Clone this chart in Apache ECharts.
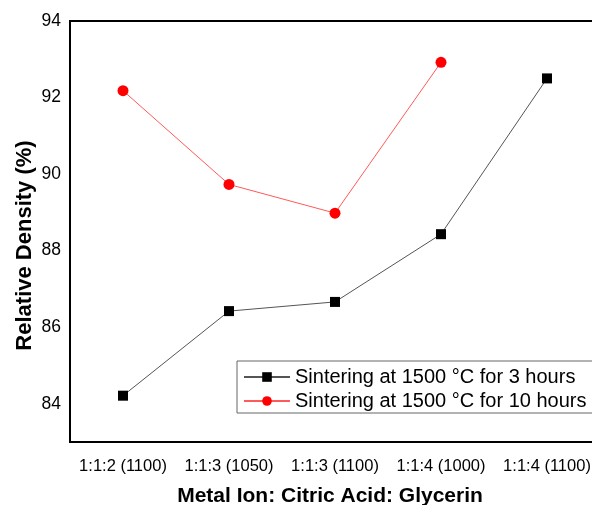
<!DOCTYPE html>
<html>
<head>
<meta charset="utf-8">
<script src="https://cdn.jsdelivr.net/npm/echarts@6/dist/echarts.min.js"></script>
<style>
  html, body { margin: 0; padding: 0; background: #fff; }
  #chart { width: 592px; height: 505px; }
</style>
</head>
<body>
<div id="chart"></div>
<script>
// ratios (sintering temperature)
var categories = ['1:1:2 (1100)', '1:1:3 (1050)', '1:1:3 (1100)', '1:1:4 (1000)', '1:1:4 (1100)'];
var hours3 = [84.21, 86.42, 86.66, 88.43, 92.50];
var hours10 = [92.18, 89.73, 88.98, 92.92, null];
var seriesNames = ['Sintering at 1500 \u00B0C for 3 hours', 'Sintering at 1500 \u00B0C for 10 hours'];

var chart = echarts.init(document.getElementById('chart'));
var font = 'Liberation Sans';

chart.setOption({
  backgroundColor: '#fff',
  animation: false,
  grid: {
    left: 70, top: 21, right: -8, bottom: 63,
    outerBoundsMode: 'none',
    containLabel: false,
    show: true, borderColor: '#000', borderWidth: 2
  },
  legend: {
    orient: 'vertical',
    left: 237, top: 361,
    padding: [6, 10, 2, 6],
    itemGap: 4,
    itemWidth: 46, itemHeight: 12,
    borderColor: '#666', borderWidth: 1,
    backgroundColor: '#fff',
    textStyle: { fontFamily: font, fontSize: 20, color: '#000' },
    data: seriesNames
  },
  xAxis: {
    type: 'category',
    data: categories,
    name: 'Metal Ion: Citric Acid: Glycerin',
    nameLocation: 'middle',
    nameGap: 44,
    nameTextStyle: { fontFamily: font, fontSize: 21, fontWeight: 'bold', color: '#000', padding: [0, 10, 0, 0] },
    axisLine: { lineStyle: { color: '#000', width: 2 } },
    axisTick: { alignWithLabel: true, interval: 0, length: 6, lineStyle: { color: '#000', width: 2 } },
    axisLabel: { interval: 0, fontFamily: font, fontSize: 16.5, color: '#000', margin: 16 },
    splitLine: { show: false }
  },
  yAxis: {
    type: 'value',
    min: 83, max: 94, interval: 1,
    name: 'Relative Density (%)',
    nameLocation: 'middle',
    nameGap: 34,
    nameMoveOverlap: false,
    nameTextStyle: { fontFamily: font, fontSize: 22, fontWeight: 'bold', color: '#000', padding: [0, 28, 0, 0] },
    axisLine: { show: true, lineStyle: { color: '#000', width: 2 } },
    axisTick: { show: false },
    axisLabel: {
      fontFamily: font, fontSize: 17.5, color: '#000', margin: 9,
      formatter: function (v) { return v % 2 === 0 ? v : ''; }
    },
    splitLine: { show: false }
  },
  series: [
    {
      name: seriesNames[0],
      type: 'line',
      data: hours3,
      symbol: 'rect',
      symbolSize: 10,
      itemStyle: { color: '#000' },
      lineStyle: { color: '#555', width: 1 }
    },
    {
      name: seriesNames[1],
      type: 'line',
      data: hours10,
      symbol: 'circle',
      symbolSize: 11,
      itemStyle: { color: '#ff0000' },
      lineStyle: { color: '#ff5a5a', width: 1 }
    }
  ]
});
</script>
</body>
</html>
